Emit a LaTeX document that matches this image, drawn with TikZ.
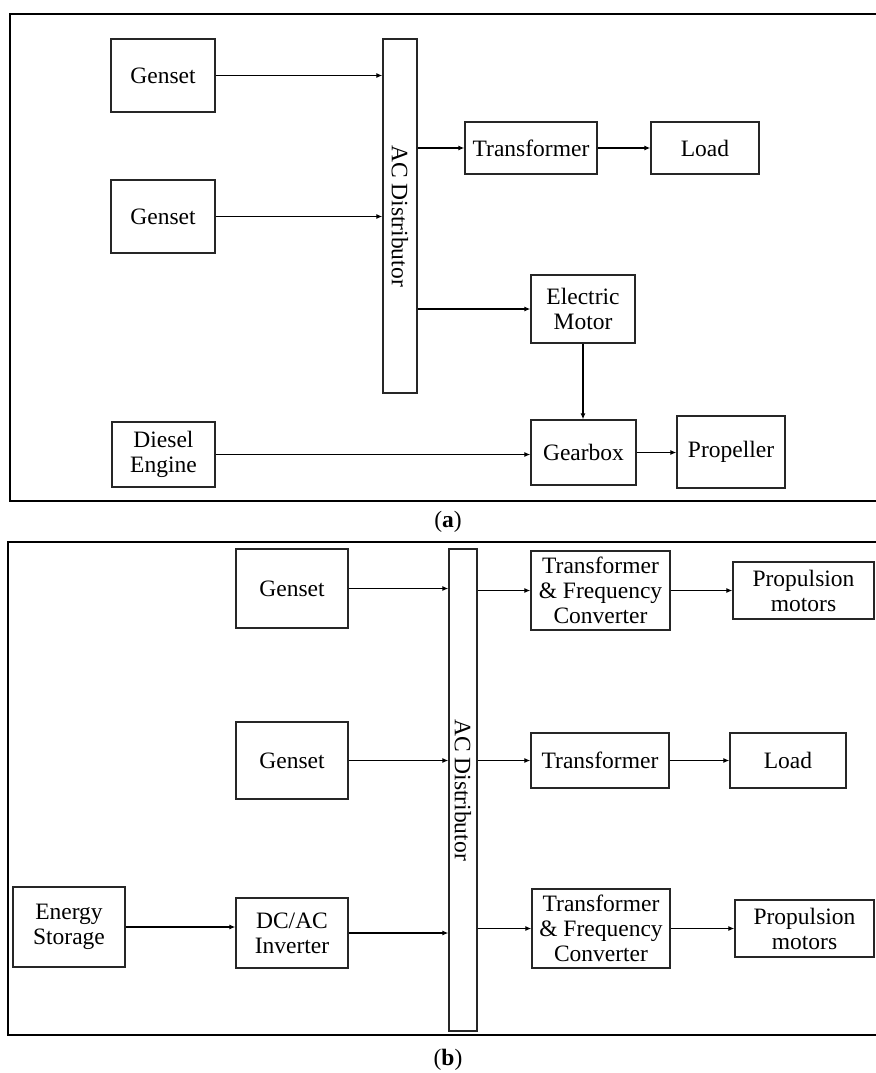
\documentclass[tikz,border=0pt]{standalone}
\usepackage{fontspec}
\setmainfont{Liberation Serif}
\usetikzlibrary{arrows.meta}
\begin{document}
\begin{tikzpicture}[x=1pt,y=-1pt,
  box/.style={draw=black!85, line width=1.3pt, inner sep=0pt, align=center, font=\fontsize{23.5}{25}\selectfont},
  txt/.style={inner sep=0pt, font=\fontsize{23.5}{25}\selectfont},
  arr/.style={line width=1.2pt, -{Latex[length=6pt,width=5pt]}},
  frm/.style={line width=2.6pt}]
\useasboundingbox (0,0) rectangle (875,1073);
\fill[white] (0,0) rectangle (875,1073);
% ---------- panel (a) ----------
\draw[frm] (885,14) -- (10,14) -- (10,501) -- (885,501);
\node[box, minimum width=104pt, minimum height=73pt] (g1) at (163,75.5) {Genset};
\node[box, minimum width=104pt, minimum height=73pt] (g2) at (163,216.5) {Genset};
\node[box, minimum width=34pt, minimum height=354pt] (aca) at (400,216) {};
\node[txt, rotate=-90] (acat) at (aca) {AC Distributor};
\node[box, minimum width=132pt, minimum height=52pt] (ta) at (531,148) {Transformer};
\node[box, minimum width=108pt, minimum height=52pt] (la) at (705,148) {Load};
\node[box, minimum width=104pt, minimum height=68pt] (em) at (583,309) {Electric\\Motor};
\node[box, minimum width=105pt, minimum height=65pt] (gb) at (583.5,452.5) {Gearbox};
\node[box, minimum width=108pt, minimum height=72pt] (pr) at (731,452) {Propeller};
\node[box, minimum width=103pt, minimum height=65pt] (de) at (163.5,454.5) {Diesel\\Engine};
\draw[arr] (g1) -- (g1 -| aca.west);
\draw[arr] (g2) -- (g2 -| aca.west);
\draw[arr] (ta.west -| aca.east) -- (ta.west);
\draw[arr] (ta) -- (la);
\draw[arr] (em.west -| aca.east) -- (em.west);
\draw[arr] (em.south) -- (em.south |- gb.north);
\draw[arr] (gb) -- (gb -| pr.west);
\draw[arr] (de.east) -- (de.east -| gb.west);
\node[txt] (capa) at (448,522) {(\textbf{a})};
% ---------- panel (b) ----------
\draw[frm] (885,542) -- (8,542) -- (8,1035) -- (885,1035);
\node[box, minimum width=112pt, minimum height=79pt] (h1) at (292,588.5) {Genset};
\node[box, minimum width=112pt, minimum height=77pt] (h2) at (292,760.5) {Genset};
\node[box, minimum width=112pt, minimum height=80pt] (es) at (69,927) {Energy\\Storage};
\node[box, minimum width=112pt, minimum height=70pt] (inv) at (292,933) {DC/AC\\Inverter};
\node[box, minimum width=28pt, minimum height=482pt] (acb) at (463,790) {};
\node[txt, rotate=-90] (acbt) at (acb) {AC Distributor};
\node[box, minimum width=139pt, minimum height=79pt] (tf1) at (600.5,590.5) {Transformer\\\& Frequency\\Converter};
\node[box, minimum width=141pt, minimum height=57pt] (pm1) at (803.5,590.5) {Propulsion\\motors};
\node[box, minimum width=138pt, minimum height=55pt] (tb) at (600,760.5) {Transformer};
\node[box, minimum width=116pt, minimum height=55pt] (lb) at (788,760.5) {Load};
\node[box, minimum width=138pt, minimum height=79pt] (tf2) at (601,928.5) {Transformer\\\& Frequency\\Converter};
\node[box, minimum width=139pt, minimum height=57pt] (pm2) at (804.5,928.5) {Propulsion\\motors};
\draw[arr] (h1) -- (h1 -| acb.west);
\draw[arr] (h2) -- (h2 -| acb.west);
\draw[arr] (es.east) -- (es.east -| inv.west);
\draw[arr] (inv) -- (inv -| acb.west);
\draw[arr] (tf1.west -| acb.east) -- (tf1.west);
\draw[arr] (tf1) -- (pm1);
\draw[arr] (tb.west -| acb.east) -- (tb.west);
\draw[arr] (tb) -- (lb);
\draw[arr] (tf2.west -| acb.east) -- (tf2.west);
\draw[arr] (tf2) -- (pm2);
\node[txt] (capb) at (448,1060) {(\textbf{b})};
\end{tikzpicture}
\end{document}
